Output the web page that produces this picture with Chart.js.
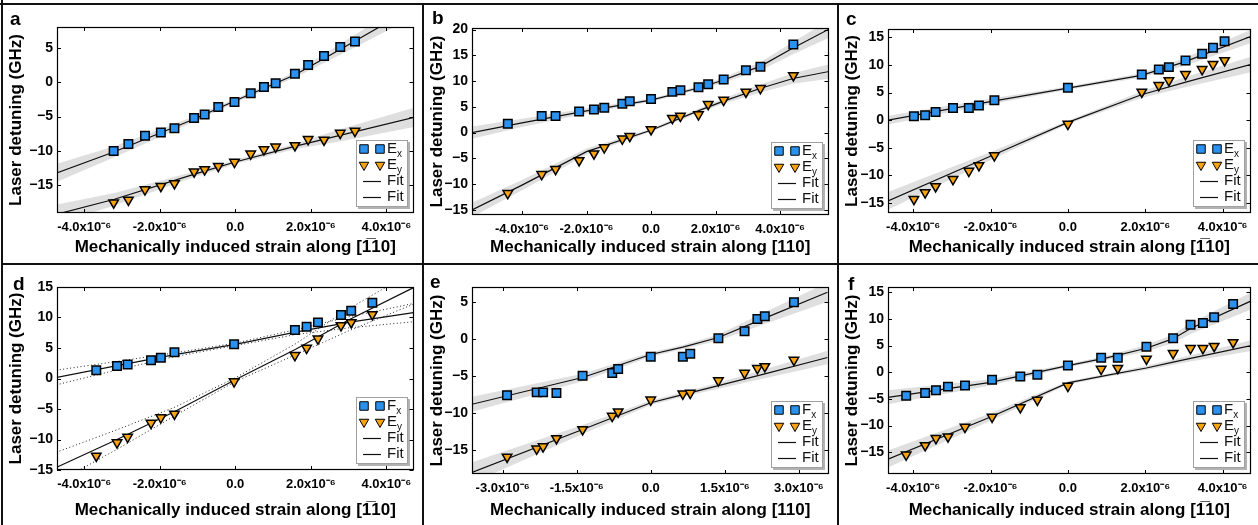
<!DOCTYPE html>
<html>
<head>
<meta charset="utf-8">
<script src="https://cdn.jsdelivr.net/npm/chart.js@4.4.1/dist/chart.umd.min.js"></script>
<style>
  body { margin: 0; background: #fff; width: 1258px; height: 525px; overflow: hidden; position: relative;
         font-family: "Liberation Sans", Arial, sans-serif; }
  .rule { position: absolute; background: #111; }
  .panel { position: absolute; overflow: hidden; }
  .panel canvas { position: absolute; left: 0; top: 0; }
  .tag { position: absolute; font-weight: bold; font-size: 19px; line-height: 1; }
</style>
</head>
<body>
<script>
// ---------- shared ticks ----------
const strainTicks = [-4e-6, -2e-6, 0, 2e-6, 4e-6];
const strainTickLabels = ['-4.0x10\u207B\u2076', '-2.0x10\u207B\u2076', '0.0', '2.0x10\u207B\u2076', '4.0x10\u207B\u2076'];
const eStrainTicks = [-3e-6, -1.5e-6, 0, 1.5e-6, 3e-6];
const eStrainTickLabels = ['-3.0x10\u207B\u2076', '-1.5x10\u207B\u2076', '0.0', '1.5x10\u207B\u2076', '3.0x10\u207B\u2076'];

// ---------- panel a ----------
const aStrain = [-3.22e-6, -2.83e-6, -2.39e-6, -1.97e-6, -1.61e-6, -1.09e-6, -0.81e-6, -0.45e-6, -0.02e-6, 0.41e-6, 0.76e-6, 1.07e-6, 1.58e-6, 1.93e-6, 2.35e-6, 2.78e-6, 3.17e-6];
const aEx = [-10.0, -9.0, -7.8, -7.3, -6.7, -5.2, -4.7, -3.6, -2.9, -1.6, -0.7, -0.15, 1.2, 2.5, 3.8, 5.1, 5.9];
const aEy = [-17.5, -17.1, -15.6, -15.1, -14.7, -13.0, -12.7, -12.2, -11.6, -10.4, -9.8, -9.4, -9.2, -8.3, -8.4, -7.4, -7.1];
const aFitX = [-4.74e-6, -3.2e-6, -1.1e-6, 0, 1.6e-6, 2.8e-6, 4.74e-6];
const aFitEx = [-13.2, -10.1, -5.4, -2.7, 1.1, 4.8, 10.9];
const aBandEx = [1.3, 0.8, 0.4, 0.3, 0.4, 0.8, 1.4];
const aFitEy = [-19.2, -17.0, -13.4, -11.6, -9.3, -7.7, -5.1];
const aBandEy = [1.4, 0.9, 0.4, 0.3, 0.4, 0.9, 1.4];
const aYTicks = [5, 0, -5, -10, -15];

// ---------- panel b ----------
const bStrain = [-4.44e-6, -3.39e-6, -2.96e-6, -2.23e-6, -1.77e-6, -1.45e-6, -0.89e-6, -0.66e-6, 0, 0.66e-6, 0.91e-6, 1.47e-6, 1.77e-6, 2.25e-6, 2.94e-6, 3.39e-6, 4.41e-6];
const bEx = [1.7, 3.2, 3.2, 4.1, 4.5, 4.8, 5.6, 6.1, 6.5, 7.9, 8.2, 8.8, 9.4, 10.3, 12.1, 12.8, 17.1];
const bEy = [-11.8, -8.1, -7.1, -5.4, -4.1, -2.9, -1.2, -0.7, 0.6, 2.8, 3.2, 3.5, 5.5, 6.3, 7.9, 8.6, 11.1];
const bFitX = [-5.55e-6, -4e-6, -2e-6, 0, 1.5e-6, 2.25e-6, 3.4e-6, 4.4e-6, 5.55e-6];
const bFitEx = [0.0, 1.9, 4.2, 6.3, 8.7, 10.2, 12.9, 16.4, 20.2];
const bBandEx = [1.2, 0.8, 0.5, 0.3, 0.4, 0.5, 0.8, 1.2, 1.7];
const bFitEy = [-15.0, -10.2, -3.7, 0.45, 4.3, 6.1, 8.6, 10.5, 11.9];
const bBandEy = [1.4, 1.0, 0.6, 0.3, 0.4, 0.5, 0.8, 1.0, 1.4];
const bYTicks = [20, 15, 10, 5, 0, -5, -10, -15];

// ---------- panel c ----------
const cStrain = [-3.98e-6, -3.69e-6, -3.42e-6, -2.97e-6, -2.56e-6, -2.30e-6, -1.90e-6, 0, 1.91e-6, 2.35e-6, 2.61e-6, 3.04e-6, 3.47e-6, 3.75e-6, 4.05e-6];
const cEx = [0.7, 0.9, 1.5, 2.2, 2.2, 2.65, 3.6, 5.85, 8.25, 9.15, 9.6, 10.8, 12.0, 13.1, 14.3];
const cEy = [-14.3, -13.1, -12.0, -10.7, -9.2, -8.2, -6.4, -0.7, 5.1, 6.3, 7.2, 8.3, 9.2, 10.1, 10.8];
const cFitX = [-4.65e-6, -1.9e-6, 0, 1.9e-6, 3.0e-6, 4.74e-6];
const cFitEx = [0.0, 3.5, 5.8, 8.1, 10.5, 15.2];
const cBandEx = [0.8, 0.5, 0.3, 0.4, 0.7, 1.2];
const cFitEy = [-14.6, -6.2, -0.4, 4.6, 6.8, 10.1];
const cBandEy = [1.6, 0.7, 0.3, 0.6, 0.9, 1.4];
const cYTicks = [15, 10, 5, 0, -5, -10, -15];

// ---------- panel d ----------
const dStrain = [-3.68e-6, -3.13e-6, -2.85e-6, -2.23e-6, -1.97e-6, -1.61e-6, -0.03e-6, 1.58e-6, 1.89e-6, 2.19e-6, 2.80e-6, 3.07e-6, 3.63e-6];
const dEx = [1.35, 2.05, 2.3, 3.0, 3.4, 4.3, 5.6, 7.95, 8.5, 9.2, 10.4, 11.1, 12.4];
const dEy = [-12.7, -10.5, -9.6, -7.3, -6.4, -5.8, -0.5, 3.8, 5.0, 6.5, 8.7, 9.2, 10.5];
const dFitX = [-4.74e-6, -3.13e-6, -1.6e-6, 0, 1.6e-6, 3.0e-6, 4.72e-6];
const dFitEx = [0.16, 2.1, 3.9, 5.6, 7.6, 9.2, 10.8];
const dBandEx = [1.2, 0.7, 0.3, 0.2, 0.4, 0.9, 1.5];
const dFitEy = [-14.6, -10.0, -5.4, -0.2, 4.8, 9.6, 14.9];
const dBandEy = [2.5, 1.6, 0.7, 0.3, 0.9, 1.8, 2.7];
const dYTicks = [15, 10, 5, 0, -5, -10, -15];

// ---------- panel e ----------
const eStrain = [-2.91e-6, -2.31e-6, -2.18e-6, -1.91e-6, -1.38e-6, -0.78e-6, -0.66e-6, 0, 0.65e-6, 0.80e-6, 1.37e-6, 1.90e-6, 2.16e-6, 2.31e-6, 2.90e-6];
const eEx = [-7.6, -7.2, -7.2, -7.3, -4.95, -4.6, -4.05, -2.4, -2.4, -2.0, 0.1, 1.05, 2.7, 3.05, 4.95];
const eEy = [-15.9, -14.8, -14.5, -13.4, -12.2, -10.4, -9.8, -8.2, -7.4, -7.3, -5.6, -4.6, -3.95, -3.7, -2.85];
const eFitX = [-3.62e-6, -1.38e-6, 0, 0.65e-6, 1.37e-6, 2.31e-6, 3.58e-6];
const eFitEx = [-8.8, -5.2, -2.1, -1.1, 0.2, 2.8, 6.3];
const eBandEx = [1.0, 0.5, 0.3, 0.3, 0.4, 0.8, 1.3];
const eFitEy = [-18.0, -12.2, -8.6, -7.5, -6.3, -4.7, -2.5];
const eBandEy = [1.4, 0.6, 0.3, 0.3, 0.4, 0.6, 0.9];
const eYTicks = [5, 0, -5, -10, -15];

// ---------- panel f ----------
const fStrain = [-4.18e-6, -3.69e-6, -3.41e-6, -3.10e-6, -2.66e-6, -1.96e-6, -1.23e-6, -0.79e-6, 0, 0.86e-6, 1.29e-6, 2.03e-6, 2.72e-6, 3.17e-6, 3.49e-6, 3.78e-6, 4.27e-6];
const fEx = [-4.4, -3.9, -3.4, -2.7, -2.5, -1.4, -0.8, -0.45, 1.25, 2.7, 2.7, 4.8, 6.4, 8.9, 9.25, 10.3, 12.8];
const fEy = [-15.5, -13.75, -12.4, -12.1, -10.3, -8.4, -6.6, -5.2, -2.6, 0.6, 0.75, 2.5, 3.55, 4.5, 4.5, 4.9, 5.6];
const fFitX = [-4.65e-6, -2.0e-6, 0, 1.0e-6, 2.03e-6, 2.72e-6, 3.17e-6, 4.74e-6];
const fFitEx = [-4.7, -1.9, 1.25, 2.7, 4.5, 6.3, 8.2, 13.4];
const fBandEx = [1.3, 0.6, 0.3, 0.4, 0.6, 0.8, 1.0, 1.6];
const fFitEy = [-16.3, -8.4, -2.0, -0.6, 0.8, 1.9, 2.6, 5.0];
const fBandEy = [1.6, 0.7, 0.3, 0.3, 0.4, 0.5, 0.6, 1.0];
const fYTicks = [15, 10, 5, 0, -5, -10, -15];

const BLUE = '#2a92ee';
const ORANGE = '#f6a312';
const BAND = 'rgba(185,185,185,0.45)';
const titleBar = 'Mechanically induced strain along [1\u030510]';
const titlePlain = 'Mechanically induced strain along [110]';

// ---------- layout of the six panels ----------
const panels = [
  { tag: 'a', left: 4, top: 6, w: 417, h: 256, area: { l: 53, t: 21, r: 414, b: 207 }, tagPos: [10, 9],
    x: [-4.72e-6, 4.72e-6], y: [-19, 8], xt: strainTicks, xl: strainTickLabels, yt: aYTicks,
    s: aStrain, ex: aEx, ey: aEy, fx: aFitX, fex: aFitEx, bex: aBandEx, fey: aFitEy, bey: aBandEy,
    title: titleBar, first: 'E', dotted: false },
  { tag: 'b', left: 425, top: 6, w: 411, h: 256, area: { l: 47, t: 22, r: 408, b: 209 }, tagPos: [432, 8],
    x: [-5.55e-6, 5.5e-6], y: [-16, 20.3], xt: strainTicks, xl: strainTickLabels, yt: bYTicks,
    s: bStrain, ex: bEx, ey: bEy, fx: bFitX, fex: bFitEx, bex: bBandEx, fey: bFitEy, bey: bBandEy,
    title: titlePlain, first: 'E', dotted: false },
  { tag: 'c', left: 840, top: 6, w: 418, h: 256, area: { l: 48, t: 23, r: 411, b: 207 }, tagPos: [846, 9],
    x: [-4.65e-6, 4.72e-6], y: [-16.8, 16.5], xt: strainTicks, xl: strainTickLabels, yt: cYTicks,
    s: cStrain, ex: cEx, ey: cEy, fx: cFitX, fex: cFitEx, bex: cBandEx, fey: cFitEy, bey: cBandEy,
    title: titleBar, first: 'E', dotted: false },
  { tag: 'd', left: 4, top: 266, w: 417, h: 259, area: { l: 53, t: 21, r: 414, b: 204 }, tagPos: [13, 274],
    x: [-4.72e-6, 4.72e-6], y: [-15, 15], xt: strainTicks, xl: strainTickLabels, yt: dYTicks,
    s: dStrain, ex: dEx, ey: dEy, fx: dFitX, fex: dFitEx, bex: dBandEx, fey: dFitEy, bey: dBandEy,
    title: titleBar, first: 'F', dotted: true },
  { tag: 'e', left: 425, top: 266, w: 411, h: 259, area: { l: 47, t: 21, r: 408, b: 208 }, tagPos: [430, 272],
    x: [-3.62e-6, 3.6e-6], y: [-18.2, 7], xt: eStrainTicks, xl: eStrainTickLabels, yt: eYTicks,
    s: eStrain, ex: eEx, ey: eEy, fx: eFitX, fex: eFitEx, bex: eBandEx, fey: eFitEy, bey: eBandEy,
    title: titlePlain, first: 'F', dotted: false },
  { tag: 'f', left: 840, top: 266, w: 418, h: 259, area: { l: 48, t: 21, r: 411, b: 208 }, tagPos: [848, 274],
    x: [-4.65e-6, 4.72e-6], y: [-19.1, 16], xt: strainTicks, xl: strainTickLabels, yt: fYTicks,
    s: fStrain, ex: fEx, ey: fEy, fx: fFitX, fex: fFitEx, bex: fBandEx, fey: fFitEy, bey: fBandEy,
    title: titleBar, first: 'F', dotted: false }
];

// frame rules between panels
[[1, 0, 2, 525], [0, 3, 1258, 2], [422, 3, 2, 522], [837, 3, 2, 522], [1, 263, 1257, 2]].forEach(r => {
  const d = document.createElement('div');
  d.className = 'rule';
  d.style.left = r[0] + 'px'; d.style.top = r[1] + 'px';
  d.style.width = r[2] + 'px'; d.style.height = r[3] + 'px';
  document.body.appendChild(d);
});

// inward ticks on all four sides + box frame
const boxTicks = {
  id: 'boxTicks',
  afterDatasetsDraw(chart) {
    const { ctx, chartArea: a, scales: { x, y } } = chart;
    ctx.save();
    ctx.strokeStyle = '#000';
    ctx.lineWidth = 1;
    ctx.beginPath();
    x.ticks.forEach(t => {
      const px = Math.round(x.getPixelForValue(t.value)) + 0.5;
      ctx.moveTo(px, a.top); ctx.lineTo(px, a.top + 4);
      ctx.moveTo(px, a.bottom); ctx.lineTo(px, a.bottom - 4);
    });
    y.ticks.forEach(t => {
      const py = Math.round(y.getPixelForValue(t.value)) + 0.5;
      ctx.moveTo(a.left, py); ctx.lineTo(a.left + 4, py);
      ctx.moveTo(a.right, py); ctx.lineTo(a.right - 4, py);
    });
    ctx.stroke();
    ctx.lineWidth = 1.2;
    ctx.strokeRect(Math.round(a.left) + 0.5, Math.round(a.top) + 0.5,
      Math.round(a.right - a.left) - 1, Math.round(a.bottom - a.top) - 1);
    ctx.restore();
  }
};

// legend box in the lower right corner of the plot
const insetLegend = {
  id: 'insetLegend',
  afterDraw(chart, args, opts) {
    const { ctx, chartArea: a } = chart;
    const ds = chart.data.datasets;
    const w = 52, h = 67;
    const x0 = Math.round(a.right - 6 - w), y0 = Math.round(a.bottom - 6 - h);
    ctx.save();
    ctx.fillStyle = 'rgba(0,0,0,0.3)';
    ctx.fillRect(x0 + 2, y0 + 2, w, h);
    ctx.fillStyle = '#fff';
    ctx.fillRect(x0, y0, w, h);
    ctx.strokeStyle = '#a0a0a0';
    ctx.lineWidth = 1;
    ctx.strokeRect(x0 + 0.5, y0 + 0.5, w - 1, h - 1);
    const rows = [y0 + 9, y0 + 25, y0 + 41, y0 + 57];
    const names = [[opts.first, 'x'], ['E', 'y'], ['Fit', ''], ['Fit', '']];
    for (let i = 0; i < 4; i++) {
      const d = ds[i];
      if (i < 2) {
        ctx.fillStyle = d.pointBackgroundColor;
        ctx.strokeStyle = d.pointBorderColor;
        [x0 + 8, x0 + 24].forEach(px => Chart.helpers.drawPoint(ctx, {
          pointStyle: d.pointStyle, rotation: d.pointRotation || 0,
          radius: d.pointRadius, borderWidth: d.pointBorderWidth }, px, rows[i]));
      } else {
        ctx.strokeStyle = d.borderColor;
        ctx.lineWidth = d.borderWidth;
        ctx.beginPath();
        ctx.moveTo(x0 + 7, rows[i] + 0.5); ctx.lineTo(x0 + 25, rows[i] + 0.5);
        ctx.stroke();
      }
      ctx.fillStyle = '#111';
      ctx.textBaseline = 'middle';
      ctx.font = '15px "Liberation Sans", Arial, sans-serif';
      ctx.fillText(names[i][0], x0 + 31, rows[i]);
      if (names[i][1]) {
        const wm = ctx.measureText(names[i][0]).width;
        ctx.font = '10px "Liberation Sans", Arial, sans-serif';
        ctx.fillText(names[i][1], x0 + 31 + wm, rows[i] + 5);
      }
    }
    ctx.restore();
  }
};

function pts(xs, ys) { return xs.map((v, i) => ({ x: v, y: ys[i] })); }
function edge(xs, ys, ws, sign) { return xs.map((v, i) => ({ x: v, y: ys[i] + sign * ws[i] })); }

panels.forEach(p => {
  const box = document.createElement('div');
  box.className = 'panel';
  box.style.left = p.left + 'px'; box.style.top = p.top + 'px';
  box.style.width = p.w + 'px'; box.style.height = p.h + 'px';
  const cv = document.createElement('canvas');
  cv.width = p.w; cv.height = p.h;
  cv.style.width = p.w + 'px'; cv.style.height = p.h + 'px';
  box.appendChild(cv);
  document.body.appendChild(box);

  const tag = document.createElement('div');
  tag.className = 'tag';
  tag.textContent = p.tag;
  tag.style.left = p.tagPos[0] + 'px'; tag.style.top = p.tagPos[1] + 'px';
  document.body.appendChild(tag);

  const lineBase = { showLine: true, pointRadius: 0, pointHoverRadius: 0, tension: 0 };
  const edgeStyle = p.dotted
    ? { borderColor: '#222', borderWidth: 1, borderDash: [1, 2.5], fill: false }
    : { borderColor: 'rgba(0,0,0,0)', borderWidth: 0 };

  const datasets = [
    { label: 'Ex', data: pts(p.s, p.ex), pointStyle: 'rect', pointRadius: 6,
      pointBackgroundColor: BLUE, pointBorderColor: '#000', pointBorderWidth: 1.5 },
    { label: 'Ey', data: pts(p.s, p.ey), pointStyle: 'triangle', pointRotation: 180, pointRadius: 5.5,
      pointBackgroundColor: ORANGE, pointBorderColor: '#000', pointBorderWidth: 1.5 },
    { label: 'Fit', data: pts(p.fx, p.fex), ...lineBase, borderColor: '#111', borderWidth: 1.2 },
    { label: 'Fit', data: pts(p.fx, p.fey), ...lineBase, borderColor: '#111', borderWidth: 1.2 },
    { data: edge(p.fx, p.fex, p.bex, -1), ...lineBase, ...edgeStyle },
    { data: edge(p.fx, p.fex, p.bex, 1), ...lineBase, ...edgeStyle, fill: p.dotted ? false : 4, backgroundColor: BAND },
    { data: edge(p.fx, p.fey, p.bey, -1), ...lineBase, ...edgeStyle },
    { data: edge(p.fx, p.fey, p.bey, 1), ...lineBase, ...edgeStyle, fill: p.dotted ? false : 6, backgroundColor: BAND }
  ];

  new Chart(cv, {
    type: 'scatter',
    data: { datasets },
    options: {
      responsive: false,
      animation: false,
      events: [],
      layout: { padding: { left: 0, top: p.area.t, right: p.w - p.area.r, bottom: 0 } },
      plugins: {
        legend: { display: false },
        tooltip: { enabled: false },
        insetLegend: { first: p.first }
      },
      scales: {
        x: {
          type: 'linear', min: p.x[0], max: p.x[1],
          grid: { display: false, drawTicks: false },
          border: { display: false },
          afterBuildTicks: s => { s.ticks = p.xt.map(v => ({ value: v })); },
          afterFit: s => { s.height = p.h - p.area.b; s.paddingLeft = 0; s.paddingRight = 0; },
          ticks: {
            autoSkip: false, maxRotation: 0, minRotation: 0, padding: 7, color: '#000',
            font: { family: '"Liberation Sans", Arial, sans-serif', size: 13, weight: 'bold' },
            callback: (v, i) => p.xl[i]
          },
          title: {
            display: true, text: p.title, color: '#000', padding: { top: 0, bottom: 4 },
            font: { family: '"Liberation Sans", Arial, sans-serif', size: 17, weight: 'bold' }
          }
        },
        y: {
          type: 'linear', min: p.y[0], max: p.y[1],
          grid: { display: false, drawTicks: false },
          border: { display: false },
          afterBuildTicks: s => { s.ticks = p.yt.map(v => ({ value: v })); },
          afterFit: s => { s.width = p.area.l; s.paddingTop = 0; s.paddingBottom = 0; },
          ticks: {
            padding: 4, color: '#000',
            font: { family: '"Liberation Sans", Arial, sans-serif', size: 14, weight: 'bold' },
            callback: v => String(v).replace('-', '\u2212')
          },
          title: {
            display: true, text: 'Laser detuning (GHz)', color: '#000', padding: { top: 2, bottom: 0 },
            font: { family: '"Liberation Sans", Arial, sans-serif', size: 17, weight: 'bold' }
          }
        }
      }
    },
    plugins: [boxTicks, insetLegend]
  });
});
</script>
</body>
</html>
